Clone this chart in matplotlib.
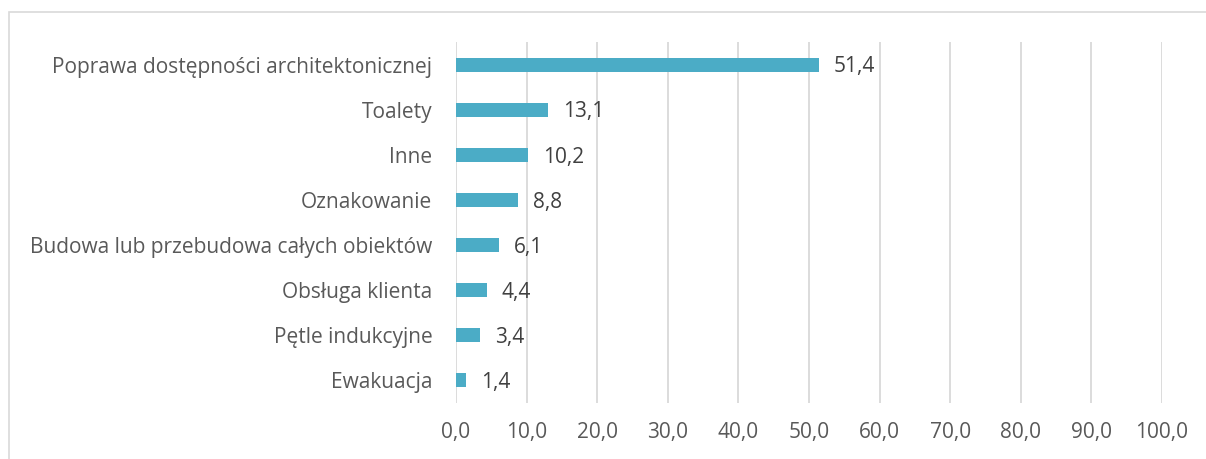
import matplotlib.pyplot as plt
from matplotlib.patches import Rectangle

categories = [
    'Poprawa dostępności architektonicznej',
    'Toalety',
    'Inne',
    'Oznakowanie',
    'Budowa lub przebudowa całych obiektów',
    'Obsługa klienta',
    'Pętle indukcyjne',
    'Ewakuacja',
]
values = [51.4, 13.1, 10.2, 8.8, 6.1, 4.4, 3.4, 1.4]
ticks = [0, 10, 20, 30, 40, 50, 60, 70, 80, 90, 100]

plt.rcParams['font.family'] = ['Open Sans', 'DejaVu Sans']
FS = 15

W, H = 1206, 459
fig = plt.figure(figsize=(W / 100, H / 100), dpi=100)

# outer chart frame (left and top edges visible)
fig.patches.append(Rectangle((9 / W, -0.1), 1.2, (H - 12) / H + 0.1,
                             transform=fig.transFigure, fill=False,
                             edgecolor='#D9D9D9', linewidth=1.2))

ax = fig.add_axes([456 / W, 1 - 403 / H, (1162 - 456) / W, (403 - 42) / H])

y = list(range(len(categories)))
ax.barh(y, values, height=0.31, color='#4BACC6', zorder=3)
for yi, v in zip(y, values):
    ax.text(v + 2.1, yi + 0.05, f'{v:.1f}'.replace('.', ','), va='center', ha='left',
            fontsize=FS, color='#404040', zorder=4)

ax.set_xlim(0, 100)
ax.set_ylim(len(categories) - 0.5, -0.5)
ax.set_yticks(y)
ax.set_yticklabels(categories, fontsize=FS, color='#595959')
ax.set_xticks(ticks)
ax.set_xticklabels([f'{t:.1f}'.replace('.', ',') for t in ticks],
                   fontsize=FS, color='#595959')
ax.tick_params(axis='both', length=0)
ax.tick_params(axis='y', pad=17)
ax.tick_params(axis='x', pad=14)
ax.grid(axis='x', color='#D9D9D9', linewidth=1.3, zorder=0)
for s in ax.spines.values():
    s.set_visible(False)

fig.savefig('out.png', dpi=100)
